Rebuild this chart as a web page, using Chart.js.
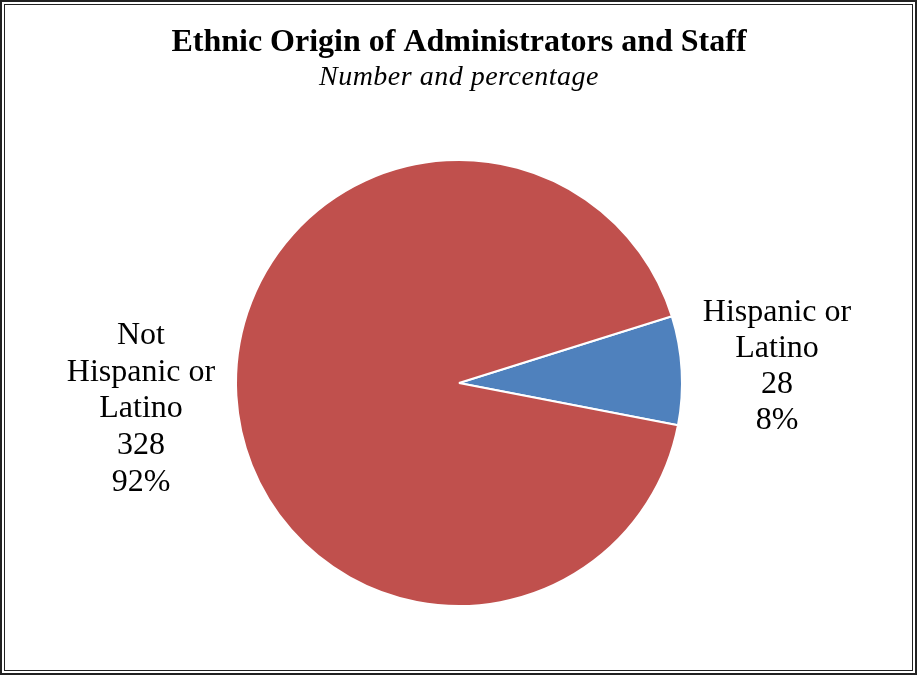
<!DOCTYPE html>
<html>
<head>
<meta charset="utf-8">
<script src="https://cdn.jsdelivr.net/npm/chart.js@4/dist/chart.umd.min.js"></script>
<style>
  html, body { margin: 0; padding: 0; background: #fff; }
  #wrap { width: 917px; height: 675px; position: relative; }
</style>
</head>
<body>
<div id="wrap"><canvas id="pieChart" width="917" height="675"></canvas></div>
<script>
const categories = ["Hispanic or Latino", "Not Hispanic or Latino"];
const counts = [28, 328];
const percents = ["8%", "92%"];
const labelLines = [["Hispanic or", "Latino"], ["Not", "Hispanic or", "Latino"]];

const FONT = "'Liberation Serif', 'Times New Roman', serif";

// frame, titles and the outside slice labels
const decorations = {
  id: "decorations",
  afterDraw(chart) {
    const ctx = chart.ctx;
    ctx.save();
    ctx.strokeStyle = "#222";
    ctx.lineWidth = 2;
    ctx.strokeRect(1, 1, 915, 673);
    ctx.lineWidth = 1;
    ctx.strokeRect(4.5, 4.5, 908, 666);

    ctx.fillStyle = "#000";
    ctx.textAlign = "center";
    ctx.textBaseline = "alphabetic";
    ctx.font = "bold 32px " + FONT;
    ctx.fillText("Ethnic Origin of Administrators and Staff", 459, 51);
    ctx.font = "italic 28px " + FONT;
    ctx.letterSpacing = "0.5px";
    ctx.fillText("Number and percentage", 459, 85);
    ctx.letterSpacing = "0px";

    ctx.font = "32px " + FONT;
    const anchors = [{ x: 777, y: 321 }, { x: 141, y: 344 }];
    const steps = [36, 36.7];
    categories.forEach((c, i) => {
      const lines = labelLines[i].concat([String(counts[i]), percents[i]]);
      lines.forEach((t, j) => ctx.fillText(t, anchors[i].x, anchors[i].y + j * steps[i]));
    });
    ctx.restore();
  }
};

new Chart(document.getElementById("pieChart"), {
  type: "pie",
  data: {
    labels: categories,
    datasets: [{
      data: counts,
      backgroundColor: ["#4F81BD", "#C0504D"],
      borderColor: "#fff",
      borderWidth: 2
    }]
  },
  options: {
    responsive: false,
    animation: false,
    rotation: 72.6,
    layout: { padding: { top: 159, bottom: 68, left: 235, right: 234 } },
    plugins: {
      legend: { display: false },
      tooltip: { enabled: false }
    }
  },
  plugins: [decorations]
});
</script>
</body>
</html>
